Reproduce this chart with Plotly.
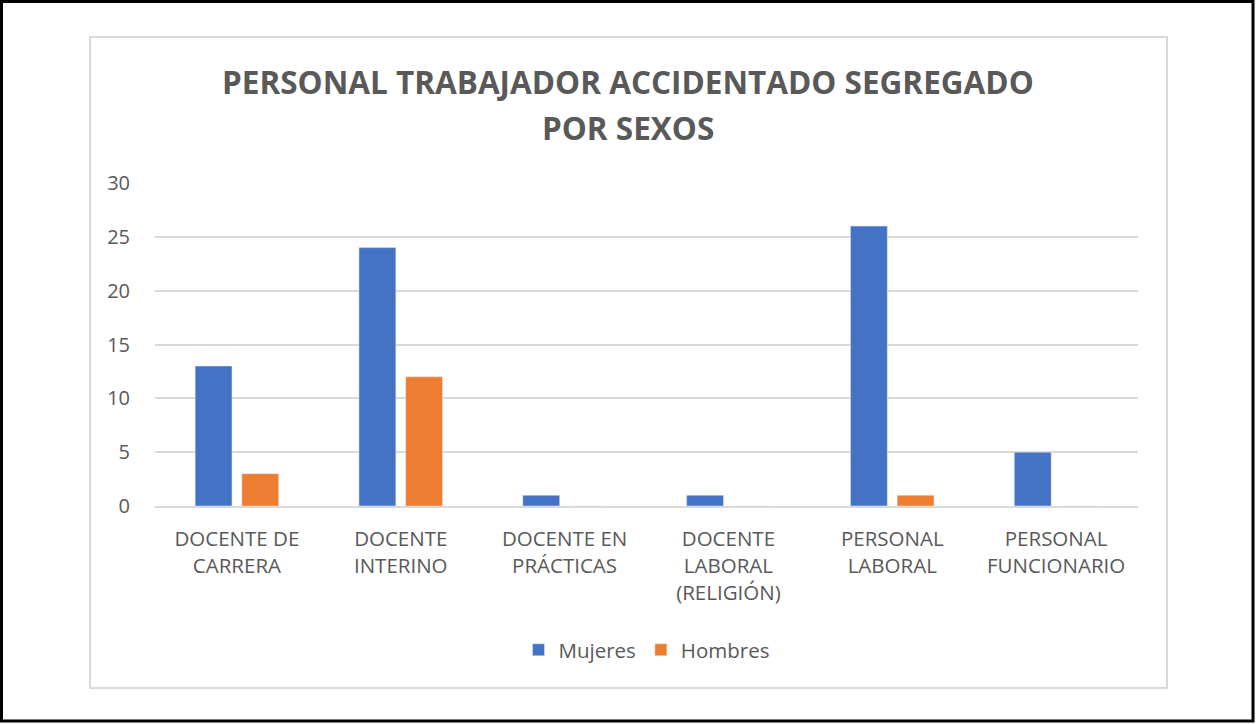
import plotly.graph_objects as go

categorias = [
    "DOCENTE DE<br>CARRERA",
    "DOCENTE<br>INTERINO",
    "DOCENTE EN<br>PRÁCTICAS",
    "DOCENTE<br>LABORAL<br>(RELIGIÓN)",
    "PERSONAL<br>LABORAL",
    "PERSONAL<br>FUNCIONARIO",
]
mujeres = [13, 24, 1, 1, 26, 5]
hombres = [3, 12, 0, 0, 1, 0]
titulo = ["PERSONAL TRABAJADOR ACCIDENTADO SEGREGADO", "POR SEXOS"]

W, H = 1256, 724
L, R, T, B = 155, 118, 183, 218
pw, ph = W - L - R, H - T - B


def px(x):
    return (x - L) / pw


def py(y):
    return (H - B - y) / ph


fig = go.Figure()
fig.add_trace(go.Bar(name="Mujeres", x=categorias, y=mujeres, marker_color="#4472C4"))
fig.add_trace(go.Bar(name="Hombres", x=categorias, y=hombres, marker_color="#ED7D31"))

gray = "#595959"
# two title lines as annotations so the line spacing matches
for txt, ypix in zip(titulo, [82, 127]):
    fig.add_annotation(text=txt, xref="paper", yref="paper", x=px(628), y=py(ypix),
                       xanchor="center", yanchor="middle", showarrow=False,
                       font=dict(family="Open Sans", size=31.5, color=gray, weight="bold"))

fig.update_layout(
    width=W, height=H,
    margin=dict(l=L, r=R, t=T, b=B),
    barmode="group", bargap=0.43, bargroupgap=0.21,
    plot_bgcolor="white", paper_bgcolor="white",
    font=dict(family="Open Sans", color=gray, size=20),
    yaxis=dict(range=[0, 30], dtick=5, gridcolor="#d9d9d9", gridwidth=1.5,
               zeroline=False, showline=False, ticks="", ticklabelstandoff=24,
               tickfont=dict(size=20)),
    xaxis=dict(showline=True, linecolor="#d9d9d9", linewidth=1.5, ticks="",
               ticklabelstandoff=14, tickfont=dict(size=20.5)),
    legend=dict(orientation="h", x=0.5, xanchor="center", y=py(650), yanchor="middle",
                font=dict(size=20.5), itemwidth=30),
    shapes=[
        dict(type="rect", xref="paper", yref="paper",
             x0=px(90), x1=px(1167), y0=py(688), y1=py(37),
             line=dict(color="#d9d9d9", width=2), layer="below"),
        dict(type="rect", xref="paper", yref="paper",
             x0=px(1.5), x1=px(1253), y0=py(721), y1=py(1.5),
             line=dict(color="black", width=3)),
    ],
)

fig.write_html("out.html", config={"displayModeBar": False},
               post_script="document.body.style.margin='0';document.body.style.overflow='hidden';")
